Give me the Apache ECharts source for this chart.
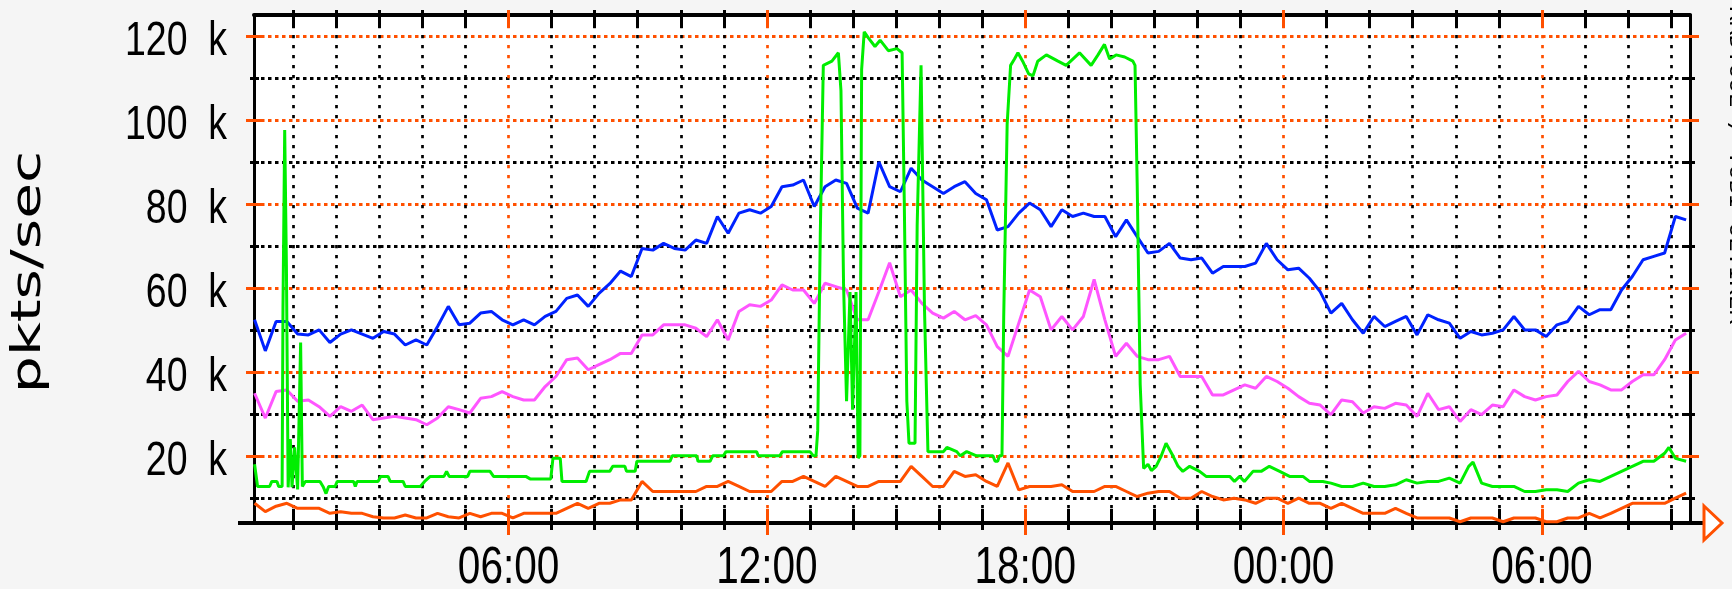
<!DOCTYPE html>
<html>
<head>
<meta charset="utf-8">
<script src="https://cdn.jsdelivr.net/npm/echarts@6/dist/echarts.min.js"></script>
<style>
html,body{margin:0;padding:0;background:#f5f5f5;}
#chart{width:1732px;height:589px;}
</style>
</head>
<body>
<div id="chart"></div>
<script>
// ---- axis ticks / labels ----
const yMajorTicks = [20, 40, 60, 80, 100, 120];          // k pkts/sec
const yMinorTicks = [10, 30, 50, 70, 90, 110];
const xMajorTicks = [6, 12, 18, 24, 30];                  // hours since start day 00:00
const xMajorLabels = ['06:00', '12:00', '18:00', '00:00', '06:00'];
const xMinorTicks = [1,2,3,4,5,7,8,9,10,11,13,14,15,16,17,19,20,21,22,23,25,26,27,28,29,31,32,33];
const yLabel = 'pkts/sec';

// ---- sampled series (every 15 min, starting 00:06) values in k pkts/sec ----
const sampleStart = 0.1;
const sampleStep = 0.25;

const blueValues = [
  52.4,45,52,52,  49,48.8,50,47,  49,50,49,48,  49.6,49,46.4,47.6,
  46.4,50.8,55.6,51.2,  51.6,54,54.4,52.4,  51.2,52.4,51.2,53.2,  54.4,57.5,58.3,55.6,
  58.7,61,64,62.7,  69.4,69,70.6,69.4,  69,71.4,70.6,77,  73,77.8,78.6,77.8,
  79.4,84.1,84.5,85.7,  79.4,84.1,85.7,84.9,  79,77.8,90,84.1,  82.9,88.5,85.7,84.1,
  82.5,84.1,85.3,82.5,  81,73.8,74.6,77.8,  80.2,78.6,74.6,78.6,  77,77.8,77,77,
  72.2,76.2,72.2,68.3,  68.7,70.6,67.1,66.7,  67.1,63.5,65.1,65.1,  65.1,65.9,70.6,66.7,
  64.3,64.7,62.3,59.1,  54,56.3,52.4,49.2,  53.2,50.8,52,53.2,  48.8,53.6,52.4,51.6,
  48,49.6,48.8,49.2,  50,53.2,50,50,  48.4,51.2,52,55.6,  53.6,54.8,54.8,59.5,
  62.7,66.7,67.5,68.3,  77,76.2
];

const magentaValues = [
  34.9,29,35.3,35.7,  33,33.3,31.7,29.4,  31.7,30.6,32.1,28.6,  29,29.4,29,28.6,
  27.4,29,31.7,31,  30.2,33.7,34.1,35.3,  34.1,33.3,33.3,36.5,  38.9,42.9,43.3,40.5,
  41.7,42.9,44.4,44.4,  48.8,48.8,51.2,51.2,  51.2,50.4,48.4,52.4,  47.6,54.4,56,55.6,
  57.1,60.7,59.5,59.5,  56.3,61.1,60.3,59.5,  52.4,52.4,59.1,66,  57.9,59.5,56.3,54,
  52.8,54.4,52.4,53.4,  51.2,46,43.7,51.6,  59.5,57.9,50,53.2,  50,53.2,62,52.4,
  43.7,46.8,43.7,42.9,  42.9,43.7,38.9,38.9,  38.9,34.5,34.5,35.7,  36.9,36.1,38.9,37.7,
  36.1,34.1,32.5,32.1,  29.8,33.3,32.9,30.2,  31.7,31.3,32.5,32.1,  29.4,34.9,31,31.7,
  28.2,31,29.8,32.1,  31.7,35.7,34.1,33.3,  34.1,34.5,37.7,40.1,  37.7,36.9,35.7,35.7,
  37.7,39.3,39.3,42.9,  47.6,49.2
];

const orangeValues = [
  8.7,6.7,8,8.7,  7.5,7.5,7.5,6.3,  6.7,6.3,6.3,5.5,  5.2,5.2,5.9,5.2,
  5.2,6.3,5.5,5.2,  6.3,5.5,6.3,6.3,  5.2,6.3,6.3,6.3,  6.3,7.5,8.7,7.5,
  8.7,8.7,9.5,9.5,  13.9,11.5,11.5,11.5,  11.5,11.5,12.7,12.7,  13.9,12.7,11.5,11.5,
  11.5,13.9,13.9,15.1,  13.9,12.7,15.1,13.9,  12.7,12.7,13.9,13.9,  13.9,17.5,15.1,12.7,
  12.7,16.3,15.1,15.5,  13.9,12.7,18.3,11.9,  12.7,12.7,12.7,13.1,  11.5,11.5,11.5,12.7,
  12.7,11.5,10.3,11.1,  11.5,11.5,9.9,9.9,  11.5,10.3,9.5,9.9,  9.5,8.7,9.9,9.9,
  8.7,9.9,8.7,8.7,  7.5,8.7,7.5,6.3,  6.3,6.3,7.5,6.3,  5.2,5.2,5.2,5.2,
  4.3,5.2,5.2,5.2,  4.3,5.2,5.2,5.2,  4.3,4.3,5.2,5.2,  6.3,5.2,6.3,7.5,
  8.7,8.7,8.7,8.7,  9.9,11.1
];

// ---- green series: irregular sample times (hours) and values (k) ----
const greenTimes = [
  0.1,0.17,0.45,0.5,0.62,0.66,0.74,0.76,0.8,0.84,0.88,0.93,0.97,1.03,1.1,1.14,1.17,1.21,1.28,
  1.62,1.7,1.76,1.82,1.97,2.02,2.4,2.44,2.48,2.97,3.03,3.2,3.25,3.55,3.6,3.95,4.05,4.18,4.5,4.56,4.62,
  5.05,5.1,5.57,5.65,6.4,6.5,6.98,7.03,7.2,7.24,7.8,7.88,8.35,8.42,8.7,8.74,8.94,8.98,9.75,9.8,
  10.37,10.4,10.68,10.74,10.99,11.05,11.76,11.8,12.3,12.36,13.0,13.08,13.14,13.18,13.24,13.31,
  13.51,13.66,13.72,13.78,13.85,13.93,13.99,14.07,14.12,14.16,14.2,14.26,14.36,14.51,14.63,14.82,
  15.02,15.14,15.19,15.25,15.3,15.44,15.49,15.58,15.66,15.74,16.1,16.18,16.41,16.49,16.64,16.87,
  17.25,17.3,17.36,17.4,17.46,17.5,17.58,17.66,17.75,17.83,17.94,18.08,18.18,18.29,18.49,18.76,
  18.95,19.26,19.53,19.69,19.84,19.96,20.11,20.31,20.5,20.55,20.6,20.67,20.75,20.85,20.93,21.04,
  21.16,21.27,21.43,21.55,21.66,21.82,22.05,22.2,22.75,22.86,22.98,23.09,23.29,23.48,23.67,23.91,
  24.14,24.45,24.6,24.91,25.1,25.35,25.6,25.85,26.1,26.35,26.6,26.85,27.1,27.35,27.6,27.85,
  28.1,28.3,28.4,28.6,28.85,29.1,29.35,29.6,29.85,30.1,30.35,30.6,30.85,31.1,31.35,31.6,31.85,
  32.1,32.35,32.6,32.85,32.95,33.1,33.35
];
const greenValues = [
  18,12.7,12.7,13.9,13.9,12.7,12.7,55,97.6,65,12.5,24,12.5,22,12,12,47,12.7,13.9,
  13.9,12.5,11,12.7,12.7,13.9,13.9,12.7,13.9,13.9,15.1,15.1,13.9,13.9,12.7,12.7,13.9,15.1,15.1,16.3,15.1,
  15.1,16.3,16.3,15.1,15.1,14.5,14.5,19.4,19.4,13.9,13.9,16.3,16.3,17.5,17.5,16.3,16.3,18.7,18.7,20,
  20,18.7,18.7,20,20,21,21,20,20,21,21,20,20,26,73,113,
  114,116,107,61,33,59,31,59,19.5,20,112,121,119.5,117.5,119,116.5,
  117,116,81,33,23,23,75,113,55,21,21,22,21,20,21,20,
  20,18.7,18.7,20,20,53,99,113,114.5,116,114,111,110.5,114,115.5,114,
  113,116,113,115.5,118,114.5,115.5,115,114,113,85,37,17,18,16.5,17.5,
  20,23,20,17.5,16.3,17.5,16.3,15.1,15.1,13.9,15.1,13.9,16.3,16.3,17.5,16.3,
  15.1,15.1,13.9,13.9,13.5,12.7,12.7,13.5,12.7,12.7,13.1,14.3,13.5,13.9,13.9,14.7,
  13.5,17.5,18.5,13.5,12.7,12.7,12.7,11.5,11.5,11.9,11.9,11.5,13.5,14.3,13.9,15.1,16.3,
  17.5,18.7,18.7,20.6,22,19.4,18.7
];

// ---- styling constants ----
const ORANGE = '#ff5000';
const BLACK = '#000000';
const Y_MIN = 4, Y_MAX = 125;
const X_MIN = 0.087, X_MAX = 33.44;
const LABEL_FONT_FAMILY = '"Liberation Sans", Arial, sans-serif';
const LABEL_SQUEEZE = 0.78;   // narrow, tall tick-label lettering

function sampled(values) {
  return values.map((v, i) => [sampleStart + i * sampleStep, v]);
}

function yAx(position, ticks, color, len, inside, extra) {
  return Object.assign({
    type: 'value', min: Y_MIN, max: Y_MAX, position: position, offset: 0,
    axisLine: { show: false, onZero: false },
    axisLabel: { show: false },
    splitLine: { show: false },
    axisTick: { show: true, customValues: ticks, inside: inside, length: len,
                lineStyle: { color: color, width: 3 } }
  }, extra || {});
}
function xAx(position, ticks, color, len, inside, extra) {
  return Object.assign({
    type: 'value', min: X_MIN, max: X_MAX, position: position, offset: 0,
    axisLine: { show: false, onZero: false },
    axisLabel: { show: false },
    splitLine: { show: false },
    axisTick: { show: true, customValues: ticks, inside: inside, length: len,
                lineStyle: { color: color, width: 3 } }
  }, extra || {});
}

const chart = echarts.init(document.getElementById('chart'), null, { renderer: 'canvas' });

const staticGraphics = [
  { id: 'ytitle', type: 'text', x: 30, y: 272, rotation: Math.PI / 2, scaleX: 1.46, scaleY: 1,
    style: { text: yLabel, font: '40px "DejaVu Sans"', fill: BLACK,
             align: 'center', verticalAlign: 'middle', textAlign: 'center', textVerticalAlign: 'middle' } },
  { id: 'wm', type: 'text', x: 1735, y: 165, rotation: -Math.PI / 2, scaleX: 1.2,
    style: { text: 'RRDTOOL / TOBI OETIKER', font: '20px "DejaVu Sans Mono"', fill: BLACK,
             align: 'center', verticalAlign: 'middle', textAlign: 'center', textVerticalAlign: 'middle' } },
  { id: 'axl', type: 'line', shape: { x1: 238, y1: 523, x2: 254, y2: 523 }, style: { stroke: BLACK, lineWidth: 4 } },
  { id: 'axr', type: 'line', shape: { x1: 1690, y1: 523, x2: 1704, y2: 523 }, style: { stroke: BLACK, lineWidth: 4 } },
  { id: 'arrow', type: 'polygon', shape: { points: [[1704, 506], [1722, 523], [1704, 540]] },
    style: { fill: '#ffffff', stroke: ORANGE, lineWidth: 3 } }
];

const option = {
  animation: false,
  backgroundColor: '#f5f5f5',
  grid: { left: 254, right: 42, top: 15, bottom: 66, show: true,
          backgroundColor: '#ffffff', borderWidth: 0 },
  xAxis: [
    xAx('bottom', xMinorTicks, BLACK, 7, false, {
      splitLine: { show: true, lineStyle: { color: BLACK, width: 2.7, type: [3.3, 6.7] } }
    }),
    xAx('bottom', xMajorTicks, ORANGE, 12, false, {
      axisLine: { show: true, onZero: false, lineStyle: { color: BLACK, width: 4 } },
      splitLine: { show: true, lineStyle: { color: ORANGE, width: 2.7, type: [3.3, 6.7] } }
    }),
    xAx('bottom', xMinorTicks, BLACK, 14, true),
    xAx('bottom', xMajorTicks, ORANGE, 14, true),
    xAx('top', xMinorTicks, BLACK, 5, false, {
      axisLine: { show: true, onZero: false, lineStyle: { color: BLACK, width: 4 } }
    }),
    xAx('top', xMajorTicks, ORANGE, 5, false),
    xAx('top', xMinorTicks, BLACK, 13, true),
    xAx('top', xMajorTicks, ORANGE, 13, true)
  ],
  yAxis: [
    yAx('left', yMajorTicks, ORANGE, 8, false, {
      axisLine: { show: true, onZero: false, lineStyle: { color: BLACK, width: 3 } },
      splitLine: { show: true, lineStyle: { color: ORANGE, width: 3, type: [3.5, 3.5] } }
    }),
    yAx('left', yMinorTicks, BLACK, 4, false, {
      splitLine: { show: true, lineStyle: { color: BLACK, width: 3, type: [3.5, 3.5] } }
    }),
    yAx('left', yMajorTicks, ORANGE, 10, true),
    yAx('left', yMinorTicks, BLACK, 5, true),
    yAx('right', yMajorTicks, ORANGE, 9, false, {
      axisLine: { show: true, onZero: false, lineStyle: { color: BLACK, width: 3 } }
    }),
    yAx('right', yMinorTicks, BLACK, 5, false),
    yAx('right', yMajorTicks, ORANGE, 8, true),
    yAx('right', yMinorTicks, BLACK, 8, true)
  ],
  series: [
    { name: 'blue', type: 'line', xAxisIndex: 1, yAxisIndex: 0, showSymbol: false,
      data: sampled(blueValues), lineStyle: { color: '#0022ff', width: 3 }, itemStyle: { color: '#0022ff' } },
    { name: 'magenta', type: 'line', xAxisIndex: 1, yAxisIndex: 0, showSymbol: false,
      data: sampled(magentaValues), lineStyle: { color: '#ff55ff', width: 3 }, itemStyle: { color: '#ff55ff' } },
    { name: 'orange', type: 'line', xAxisIndex: 1, yAxisIndex: 0, showSymbol: false,
      data: sampled(orangeValues), lineStyle: { color: '#ff5000', width: 3 }, itemStyle: { color: '#ff5000' } },
    { name: 'green', type: 'line', xAxisIndex: 1, yAxisIndex: 0, showSymbol: false,
      data: greenTimes.map((t, i) => [t, greenValues[i]]),
      lineStyle: { color: '#00ee00', width: 3 }, itemStyle: { color: '#00ee00' } }
  ],
  graphic: staticGraphics
};
chart.setOption(option);

// Tick labels placed through the axes' own scales (narrowed lettering like the reference)
const tickLabelGraphics = [];
yMajorTicks.forEach(function (v, i) {
  const py = chart.convertToPixel({ yAxisIndex: 0 }, v);
  tickLabelGraphics.push({
    id: 'ylab' + i, type: 'text', x: 227, y: py + 6, scaleX: LABEL_SQUEEZE,
    style: { text: v + '  k', font: '48px ' + LABEL_FONT_FAMILY, fill: BLACK,
             align: 'right', verticalAlign: 'middle', textAlign: 'right', textVerticalAlign: 'middle' }
  });
});
xMajorTicks.forEach(function (v, i) {
  const px = chart.convertToPixel({ xAxisIndex: 1 }, v);
  tickLabelGraphics.push({
    id: 'xlab' + i, type: 'text', x: px, y: 569, scaleX: LABEL_SQUEEZE,
    style: { text: xMajorLabels[i], font: '52px ' + LABEL_FONT_FAMILY, fill: BLACK,
             align: 'center', verticalAlign: 'middle', textAlign: 'center', textVerticalAlign: 'middle' }
  });
});
chart.setOption({ graphic: staticGraphics.concat(tickLabelGraphics) });
</script>
</body>
</html>
